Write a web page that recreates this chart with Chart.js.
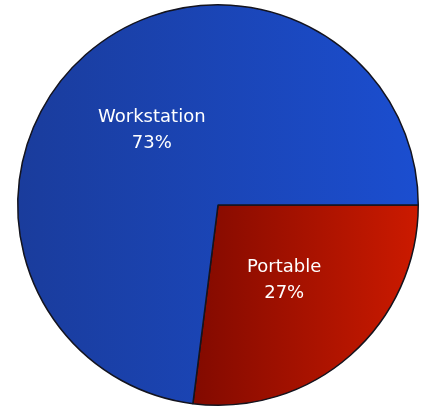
<!DOCTYPE html>
<html>
<head>
<meta charset="utf-8">
<script src="https://cdn.jsdelivr.net/npm/chart.js@4/dist/chart.umd.min.js"></script>
<style>
  html, body { margin: 0; padding: 0; background: #fff; }
  #wrap { width: 422px; height: 408px; }
</style>
</head>
<body>
<div id="wrap"><canvas id="pie"></canvas></div>
<script>
// data
var labels = ["Portable", "Workstation"];
var values = [27, 73];

// colours (left edge, right edge) per slice
var fromColors = ["#820a00", "#1a3c9c"];
var toColors = ["#cc1a00", "#1b4ed0"];

function sliceFill(ctx) {
  var chart = ctx.chart;
  var area = chart.chartArea;
  if (!area) return toColors[ctx.dataIndex];
  var cx = (area.left + area.right) / 2;
  var x0 = ctx.dataIndex === 0 ? cx - 25 : area.left;
  var g = chart.ctx.createLinearGradient(x0, 0, area.right, 0);
  g.addColorStop(0, fromColors[ctx.dataIndex]);
  g.addColorStop(1, toColors[ctx.dataIndex]);
  return g;
}

// slice labels drawn at the arc's centre point
var sliceLabels = {
  id: "sliceLabels",
  afterDatasetsDraw: function (chart) {
    var c = chart.ctx;
    var meta = chart.getDatasetMeta(0);
    var total = values.reduce(function (a, b) { return a + b; }, 0);
    c.save();
    c.fillStyle = "#ffffff";
    c.font = "18px 'DejaVu Sans'";
    c.textAlign = "center";
    c.textBaseline = "middle";
    meta.data.forEach(function (arc, i) {
      var p = arc.getCenterPoint();
      var pct = Math.round(values[i] / total * 100) + "%";
      c.fillText(labels[i], p.x, p.y - 13);
      c.fillText(pct, p.x, p.y + 13);
    });
    c.restore();
  }
};

new Chart(document.getElementById("pie").getContext("2d"), {
  type: "pie",
  data: {
    labels: labels,
    datasets: [{
      data: values,
      backgroundColor: sliceFill,
      borderColor: "#14141e",
      borderWidth: 1.5
    }]
  },
  options: {
    responsive: true,
    maintainAspectRatio: false,
    animation: false,
    rotation: 90,
    layout: { padding: { left: 17, right: 3, top: 4, bottom: 2 } },
    plugins: {
      legend: { display: false },
      tooltip: { enabled: false }
    }
  },
  plugins: [sliceLabels]
});
</script>
</body>
</html>
